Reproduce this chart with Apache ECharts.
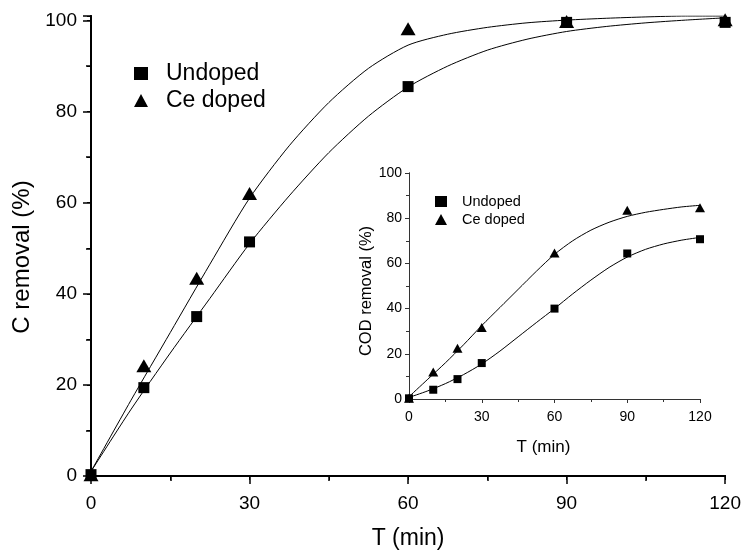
<!DOCTYPE html>
<html>
<head>
<meta charset="utf-8">
<script src="https://cdn.jsdelivr.net/npm/echarts@6/dist/echarts.min.js"></script>
<style>
html,body{margin:0;padding:0;background:#fff;}
#chart{width:744px;height:555px;}
</style>
</head>
<body>
<div id="chart"></div>
<script>
// Main chart: C removal (%) vs T (min)
const timeMin = [0, 10, 20, 30, 60, 90, 120];
const cUndoped = [0.3, 19.4, 35.0, 51.4, 85.5, 99.6, 99.6];
const cCeDoped = [0.3, 24.2, 43.4, 62.0, 98.2, 99.8, 100.2];
// Fitted curves every 7.5 min
const fitTime = [0, 7.5, 15, 22.5, 30, 37.5, 45, 52.5, 60, 67.5, 75, 82.5, 90, 97.5, 105, 112.5, 120];
const cUndopedFit = [1.0, 14.5, 27.0, 39.0, 51.0, 61.5, 71.0, 79.0, 85.4, 90.0, 93.5, 95.9, 97.6, 98.7, 99.5, 100.1, 100.6];
const cCeDopedFit = [1.0, 16.5, 31.5, 46.5, 61.0, 72.5, 82.0, 89.5, 94.6, 97.0, 98.5, 99.5, 100.1, 100.5, 100.8, 101.0, 101.0];
// Inset: COD removal (%)
const codUndoped = [0.3, 4.1, 8.8, 15.9, 40.0, 64.4, 70.7];
const codCeDoped = [0.3, 12.0, 22.5, 31.6, 64.6, 83.5, 84.6];
const codUndopedFit = [0.7, 3.5, 6.8, 10.8, 15.5, 21.2, 27.5, 33.8, 40.0, 46.5, 52.6, 58.2, 62.8, 66.2, 68.6, 70.3, 71.5];
const codCeDopedFit = [1.0, 8.5, 16.0, 24.0, 32.5, 40.5, 48.5, 56.5, 64.0, 70.0, 74.7, 78.2, 80.8, 82.6, 83.9, 85.0, 85.7];
const seriesNames = ['Undoped', 'Ce doped'];
const xTickValues = [0, 30, 60, 90, 120];
const yTickValues = [0, 20, 40, 60, 80, 100];

const pair = (xs, ys) => xs.map((x, i) => [x, ys[i]]);
const FONT = 'Liberation Sans, Arial, Helvetica, sans-serif';
const xStep = xTickValues[1] - xTickValues[0];
const yStep = yTickValues[1] - yTickValues[0];

const chart = echarts.init(document.getElementById('chart'), null, {renderer: 'canvas'});

const mainLine = {show: true, lineStyle: {color: '#000', width: 2}};
const insetLine = {show: true, lineStyle: {color: '#333', width: 1}};

function bottomAxis(grid, max, style) {
  return {
    type: 'value', gridIndex: grid, position: 'bottom',
    min: 0, max: max, interval: xStep,
    axisLine: style.line,
    axisTick: {show: true, inside: false, length: style.tick, lineStyle: {color: style.color, width: style.tw}},
    minorTick: {show: true, splitNumber: 2, length: style.minor, lineStyle: {color: style.color, width: style.tw}},
    splitLine: {show: false},
    axisLabel: {show: true, color: '#000', fontSize: style.fs, fontFamily: FONT, margin: style.xm},
    name: 'T (min)', nameLocation: 'middle', nameGap: style.xgap,
    nameTextStyle: {color: '#000', fontSize: style.nfs, fontFamily: FONT, padding: style.xpad}
  };
}
function topAxis(grid, max, style) {
  return {
    type: 'value', gridIndex: grid, position: 'top',
    min: 0, max: max, interval: xStep,
    axisLine: style.line,
    axisTick: {show: true, inside: true, length: style.inTick, lineStyle: {color: style.color, width: 1}},
    minorTick: {show: true, splitNumber: 2, length: style.inTick, lineStyle: {color: style.color, width: 1}},
    splitLine: {show: false}, axisLabel: {show: false}
  };
}
function leftAxis(grid, max, style, name) {
  return {
    type: 'value', gridIndex: grid, position: 'left',
    min: 0, max: max, interval: yStep,
    axisLine: style.line,
    axisTick: {show: true, inside: false, length: style.tick, lineStyle: {color: style.color, width: style.tw}},
    minorTick: {show: true, splitNumber: 2, length: style.minor, lineStyle: {color: style.color, width: style.tw}},
    splitLine: {show: false},
    axisLabel: {show: true, color: '#000', fontSize: style.fs, fontFamily: FONT, margin: style.ym,
      formatter: v => (yTickValues.indexOf(v) >= 0 ? String(v) : '')},
    name: name, nameLocation: 'middle', nameGap: style.ygap,
    nameTextStyle: {color: '#000', fontSize: style.yfs, fontFamily: FONT, padding: style.ypad}
  };
}
function rightAxis(grid, max, style) {
  return {
    type: 'value', gridIndex: grid, position: 'right',
    min: 0, max: max, interval: yStep,
    axisLine: style.line,
    axisTick: {show: true, inside: true, length: style.inTick, lineStyle: {color: style.color, width: 1}},
    minorTick: {show: true, splitNumber: 2, length: style.inTick, lineStyle: {color: style.color, width: 1}},
    splitLine: {show: false}, axisLabel: {show: false}
  };
}

const mainStyle = {line: mainLine, color: '#000', tw: 1.5, tick: 8, minor: 5, inTick: 4, fs: 19, nfs: 23, yfs: 24,
  xm: 18, ym: 14, xgap: 51, ygap: 55, xpad: [0, 0, 0, 0], ypad: [0, 22, 0, 0]};
const insetStyle = {line: insetLine, color: '#333', tw: 1, tick: 4, minor: 3, inTick: 3, fs: 14, nfs: 17, yfs: 16.5,
  xm: 11, ym: 7, xgap: 40, ygap: 27, xpad: [0, 22, 0, 0], ypad: [0, 10, 0, 0]};

const lineSeries = (name, x, y, xi, yi) => ({
  name: name + ' fit', type: 'line', xAxisIndex: xi, yAxisIndex: yi,
  data: pair(x, y), smooth: 0.25, showSymbol: false, symbol: 'none',
  lineStyle: {color: '#000', width: 1}, silent: true, z: 3
});
const pointSeries = (name, x, y, xi, yi, sym, size) => ({
  name: name, type: 'scatter', xAxisIndex: xi, yAxisIndex: yi,
  data: pair(x, y), symbol: sym, symbolSize: size,
  itemStyle: {color: '#000', opacity: 1}, z: 4
});

chart.setOption({
  animation: false,
  backgroundColor: '#fff',
  textStyle: {fontFamily: FONT},
  grid: [
    {left: 91, right: 16, top: 16, bottom: 71, show: false},
    {left: 409, right: 44, top: 173, bottom: 156, show: true, backgroundColor: '#fff', borderWidth: 0}
  ],
  legend: [
    {orient: 'vertical', left: 129, top: 57, itemWidth: 14, itemHeight: 13, itemGap: 4,
      itemStyle: {color: '#000', opacity: 1},
      textStyle: {fontSize: 23, color: '#000', fontFamily: FONT, padding: [0, 0, 0, 13]},
      data: [{name: seriesNames[0], icon: 'rect'}, {name: seriesNames[1], icon: 'triangle'}],
      selectedMode: false},
    {orient: 'vertical', left: 430, top: 189, itemWidth: 12, itemHeight: 11, itemGap: 3,
      itemStyle: {color: '#000', opacity: 1},
      textStyle: {fontSize: 14.5, color: '#000', fontFamily: FONT, padding: [0, 0, 0, 10]},
      data: [{name: seriesNames[0], icon: 'rect'}, {name: seriesNames[1], icon: 'triangle'}],
      selectedMode: false}
  ],
  xAxis: [
    bottomAxis(0, 120, mainStyle), topAxis(0, 120, mainStyle),
    bottomAxis(1, 120, insetStyle), topAxis(1, 120, insetStyle)
  ],
  yAxis: [
    leftAxis(0, 101, mainStyle, 'C removal (%)'), rightAxis(0, 101, mainStyle),
    leftAxis(1, 100, insetStyle, 'COD removal (%)'), rightAxis(1, 100, insetStyle)
  ],
  series: [
    lineSeries(seriesNames[0], fitTime, cUndopedFit, 0, 0),
    lineSeries(seriesNames[1], fitTime, cCeDopedFit, 0, 0),
    pointSeries(seriesNames[0], timeMin, cUndoped, 0, 0, 'rect', 11),
    pointSeries(seriesNames[1], timeMin, cCeDoped, 0, 0, 'triangle', [15, 13]),
    lineSeries(seriesNames[0], fitTime, codUndopedFit, 2, 2),
    lineSeries(seriesNames[1], fitTime, codCeDopedFit, 2, 2),
    pointSeries(seriesNames[0], timeMin, codUndoped, 2, 2, 'rect', 8),
    pointSeries(seriesNames[1], timeMin, codCeDoped, 2, 2, 'triangle', [10, 9])
  ]
});
</script>
</body>
</html>
